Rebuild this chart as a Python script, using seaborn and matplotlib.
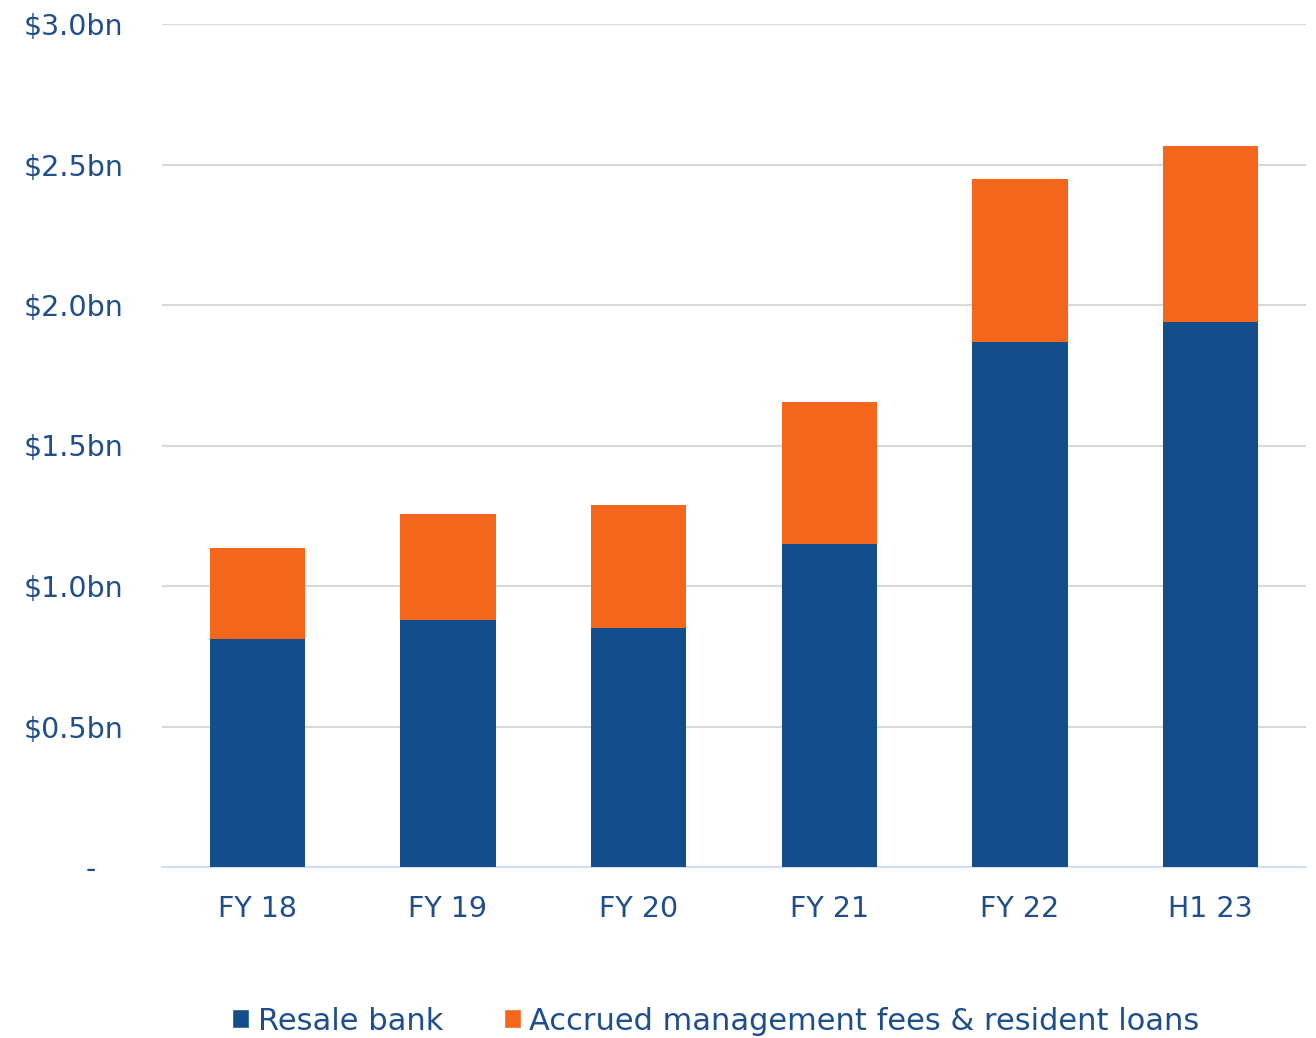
import matplotlib
matplotlib.use("Agg")
import matplotlib.pyplot as plt
from matplotlib.patches import Patch
import seaborn as sns
import pandas as pd

periods = ["FY 18", "FY 19", "FY 20", "FY 21", "FY 22", "H1 23"]
resale_bank = [0.81, 0.88, 0.85, 1.15, 1.87, 1.94]
accrued_fees = [0.325, 0.375, 0.44, 0.505, 0.58, 0.625]
y_ticks = [0.0, 0.5, 1.0, 1.5, 2.0, 2.5, 3.0]
y_labels = ["-   ", "$0.5bn", "$1.0bn", "$1.5bn", "$2.0bn", "$2.5bn", "$3.0bn"]

BLUE = "#134D8C"
ORANGE = "#F4661B"
TEXT = "#1F4E8C"

sns.set_theme(style="white")
plt.rcParams["font.family"] = ["DejaVu Sans"]

df = pd.DataFrame({
    "period": periods,
    "resale": resale_bank,
    "total": [r + a for r, a in zip(resale_bank, accrued_fees)],
})

fig = plt.figure(figsize=(13.16, 10.38), dpi=100)
ax = fig.add_axes([162 / 1316, 1 - 867 / 1038, (1306 - 162) / 1316, (867 - 24) / 1038])

sns.barplot(data=df, x="period", y="total", color=ORANGE, width=0.5,
            saturation=1, linewidth=0, ax=ax, zorder=2)
sns.barplot(data=df, x="period", y="resale", color=BLUE, width=0.5,
            saturation=1, linewidth=0, ax=ax, zorder=3)

ax.set_ylim(0, 3.0)
ax.set_xlim(-0.5, 5.5)
ax.set_yticks(y_ticks)
ax.set_yticklabels(y_labels)
ax.set_xlabel("")
ax.set_ylabel("")
ax.yaxis.grid(True, color="#D9D9D9", linewidth=1.5, zorder=0)
ax.set_axisbelow(True)
for side in ["top", "right", "left"]:
    ax.spines[side].set_visible(False)
ax.spines["bottom"].set_color("#D0E0F2")
ax.spines["bottom"].set_linewidth(1.5)
ax.tick_params(axis="both", length=0, labelsize=20.5, colors=TEXT)
ax.tick_params(axis="y", pad=28)
ax.tick_params(axis="x", pad=20)

handles = [Patch(facecolor=BLUE, label="Resale bank"),
           Patch(facecolor=ORANGE, label="Accrued management fees & resident loans")]
leg = fig.legend(handles=handles, loc="center", bbox_to_anchor=(716 / 1316, 1 - 1021 / 1038),
                 ncol=2, frameon=False, fontsize=22, handlelength=0.55, handleheight=0.55,
                 handletextpad=0.28, columnspacing=2.0, borderpad=0)
for t in leg.get_texts():
    t.set_color(TEXT)

fig.savefig("out.png", dpi=100)
